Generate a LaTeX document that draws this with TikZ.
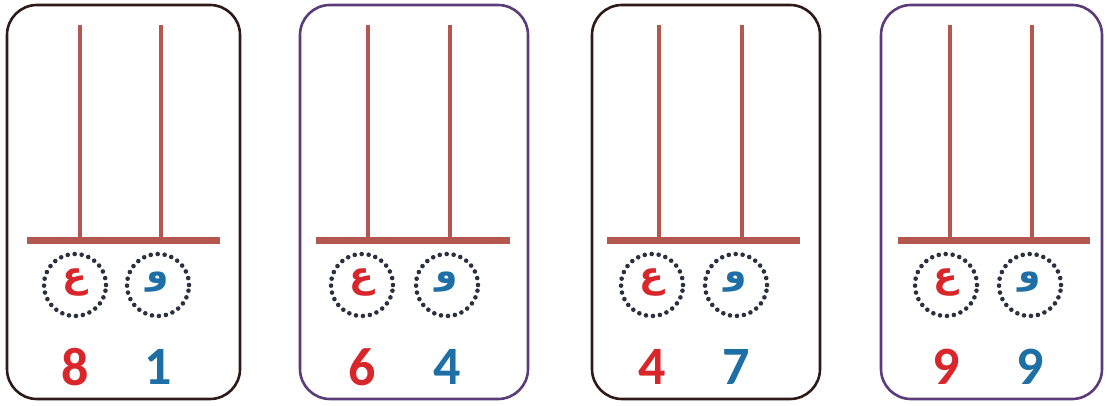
\documentclass[tikz,border=0pt]{standalone}
\usepackage{fontspec}
\setmainfont{Carlito}
\newfontfamily\arabicfont[Script=Arabic]{DejaVu Sans}
\TeXXeTstate=1
\definecolor{rodc}{HTML}{B4574F}
\definecolor{redc}{HTML}{D8262B}
\definecolor{bluec}{HTML}{1D6FA6}
\definecolor{darkb}{HTML}{2E1A16}
\definecolor{purp}{HTML}{5B3C7A}
\definecolor{dotc}{HTML}{2A3040}
\tikzset{
  cardbox/.style={line width=2.6pt, rounded corners=30pt},
  rod/.style={draw=rodc, line width=4.5pt},
  basebar/.style={draw=rodc, line width=7pt},
  dotring/.style={circle, minimum size=62pt, inner sep=0pt, draw=dotc, line width=4.6pt, line cap=round, dash pattern=on 0pt off 7pt},
  digit/.style={font=\bfseries\fontsize{54}{54}\selectfont, inner sep=0pt},
  letter/.style={font=\arabicfont\bfseries\fontsize{36}{36}\selectfont, inner sep=0pt},
}
\begin{document}
\begin{tikzpicture}[x=1pt,y=-1pt]
\useasboundingbox (0,0) rectangle (1107,406);
\fill[white] (0,0) rectangle (1107,406);
\foreach \i/\L/\R/\ra/\rb/\bl/\br/\ca/\cb/\col/\na/\nb in {
  1/7/240/80/161/27/220/75/158/darkb/8/1,
  2/300/528/368/450/316/510/362/447/purp/6/4,
  3/592/820/659/742/607/800/652/736/darkb/4/7,
  4/881/1102/950/1032/898/1090/946/1030/purp/9/9}{
  \draw[cardbox, draw=\col] (\L,5) rectangle (\R,399);
  \coordinate (ta\i) at (\ra,25);
  \coordinate (tb\i) at (\rb,25);
  \coordinate (ba\i) at (\ra,240);
  \coordinate (bb\i) at (\rb,240);
  \coordinate (bl\i) at (\bl,240);
  \coordinate (br\i) at (\br,240);
  \draw[rod] (ta\i) -- (ba\i);
  \draw[rod] (tb\i) -- (bb\i);
  \draw[basebar] (bl\i) -- (br\i);
  \node[dotring] (ra\i) at (\ca,285) {};
  \node[dotring] (rb\i) at (\cb,285) {};
  \node[letter, text=redc] (la\i) at (\ca,282) {\beginR ع\endR};
  \node[letter, text=bluec] (lb\i) at (\cb,282) {\beginR و\endR};
  \node[digit, text=redc] (na\i) at (\ca,367) {\na};
  \node[digit, text=bluec] (nb\i) at (\cb,367) {\nb};
}
\end{tikzpicture}
\end{document}
